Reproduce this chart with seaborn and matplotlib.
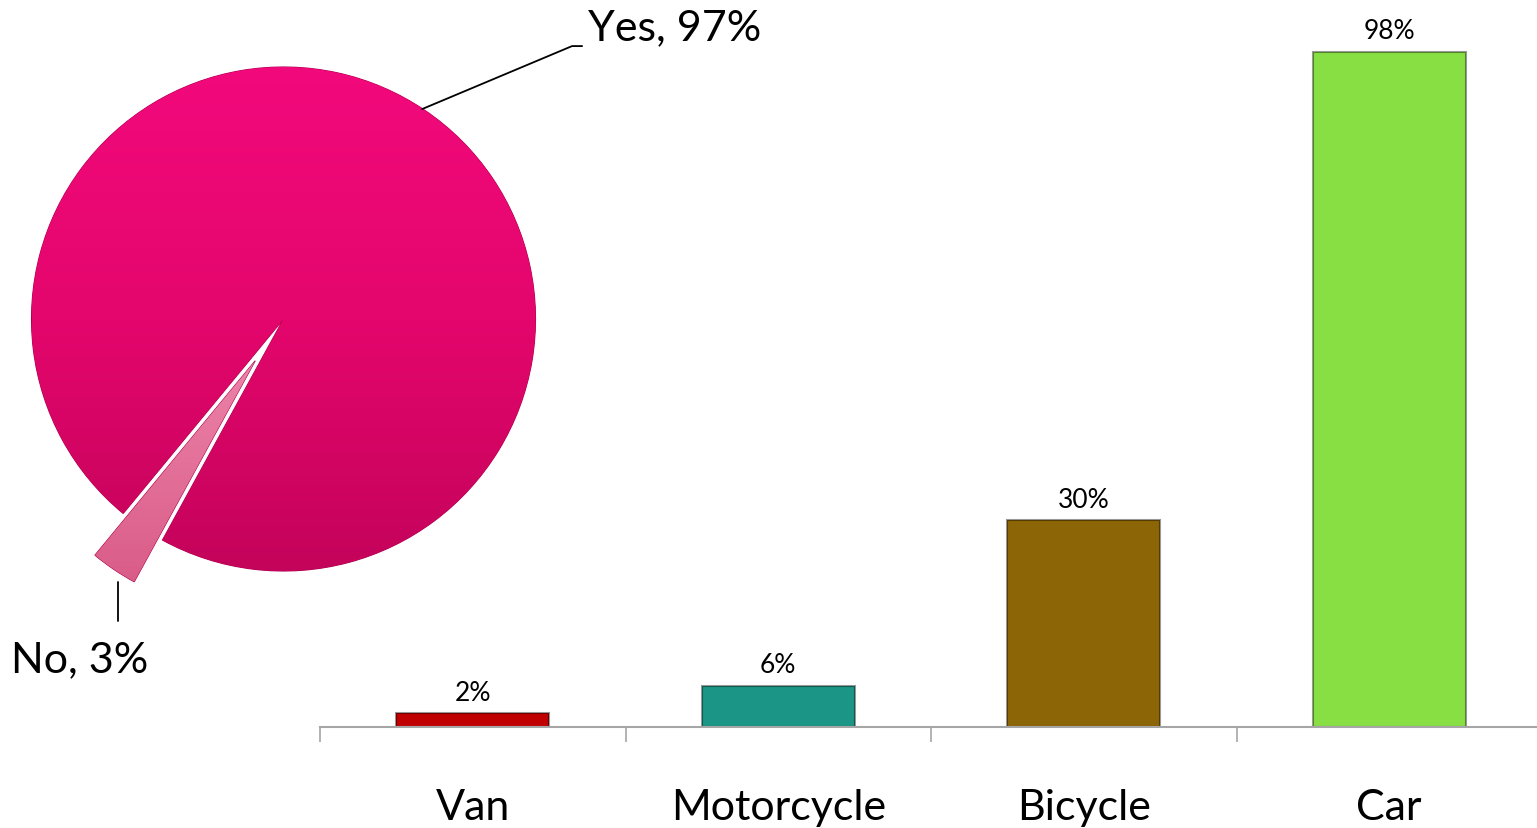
import matplotlib
matplotlib.use("Agg")
import matplotlib.pyplot as plt
from matplotlib.colors import LinearSegmentedColormap
import seaborn as sns
import pandas as pd
import numpy as np

# Pie data
pie_labels = ["Yes", "No"]
pie_values = [97, 3]
pie_colors = ["#E4066C", "#E46A93"]

# Bar data
categories = ["Van", "Motorcycle", "Bicycle", "Car"]
shares = [2, 6, 30, 98]
bar_colors = ["#C00000", "#1B9585", "#8C6506", "#88DF43"]

sns.set_theme(style="white")
plt.rcParams["font.family"] = ["Lato", "DejaVu Sans"]
plt.rcParams["text.color"] = "black"
plt.rcParams["xtick.color"] = "black"

fig = plt.figure(figsize=(15.37, 8.29), dpi=100)
W, H = 1537, 829

# Bar chart
ax = fig.add_axes([320 / W, (H - 728) / H, 1222 / W, 689 / H])
df = pd.DataFrame({"category": categories, "share": shares})
sns.barplot(data=df, x="category", y="share", hue="category", palette=bar_colors,
            saturation=1, legend=False, width=0.5, ax=ax,
            edgecolor="#00000066", linewidth=1.5)
ax.set_xlim(-0.5, 3.5)
ax.set_ylim(0, 100)
for c in ax.containers:
    ax.bar_label(c, labels=[f"{int(round(v))}%" for v in c.datavalues],
                 padding=6, fontsize=19, color="black")

sns.despine(ax=ax, left=True)
ax.spines["bottom"].set_color("#A6A6A6")
ax.spines["bottom"].set_linewidth(1.5)
ax.set_yticks([])
ax.set_xticks([-0.5, 0.5, 1.5, 2.5, 3.5])
ax.set_xticklabels([])
ax.tick_params(axis="x", which="major", direction="out", length=11, width=1.2,
               color="#A6A6A6", bottom=True)
ax.set_xticks(range(len(categories)), minor=True)
ax.set_xticklabels(categories, minor=True, fontsize=31, color="black")
ax.tick_params(axis="x", which="minor", length=0, pad=44)
ax.set_xlabel("")
ax.set_ylabel("")

# Pie chart
r = 252
pax = fig.add_axes([(283.5 - 300) / W, (H - 320 - 300) / H, 600 / W, 600 / H])
wedges, _ = pax.pie(pie_values, colors=pie_colors, startangle=241.3, explode=[0, 0.2],
                    wedgeprops=dict(edgecolor="#B0004F", linewidth=0.8))
lim = 300 / r
pax.set_aspect("equal")
pax.axis("off")

# vertical shading on the slices
grad = np.linspace(0, 1, 256).reshape(-1, 1)
cmap_yes = LinearSegmentedColormap.from_list("yes", ["#F2097C", "#E4066C", "#C4035B"])
im = pax.imshow(grad, cmap=cmap_yes, extent=[-1, 1, -1, 1], origin="upper",
                aspect="auto", zorder=wedges[0].get_zorder() + 0.1)
im.set_clip_path(wedges[0])
cmap_no = LinearSegmentedColormap.from_list("no", ["#F08AAE", "#D85A86"])
im2 = pax.imshow(grad, cmap=cmap_no, extent=[-1.2, 0, -1.1, 0], origin="upper",
                 aspect="auto", zorder=wedges[1].get_zorder() + 0.1)
im2.set_clip_path(wedges[1])
pax.set_xlim(-lim, lim)
pax.set_ylim(-lim, lim)

# Yes label with leader
pax.plot([0.55, 1.145, 1.185], [0.833, 1.083, 1.083], color="black", lw=1.3, clip_on=False)
pax.text(1.208, 1.159, f"{pie_labels[0]}, {pie_values[0]}%", fontsize=31,
         ha="left", va="center", clip_on=False)
# No label with leader
pax.plot([-0.657, -0.657], [-1.044, -1.198], color="black", lw=1.3, clip_on=False)
pax.text(-0.808, -1.349, f"{pie_labels[1]}, {pie_values[1]}%", fontsize=31,
         ha="center", va="center", clip_on=False)

fig.savefig("out.png", dpi=100)
